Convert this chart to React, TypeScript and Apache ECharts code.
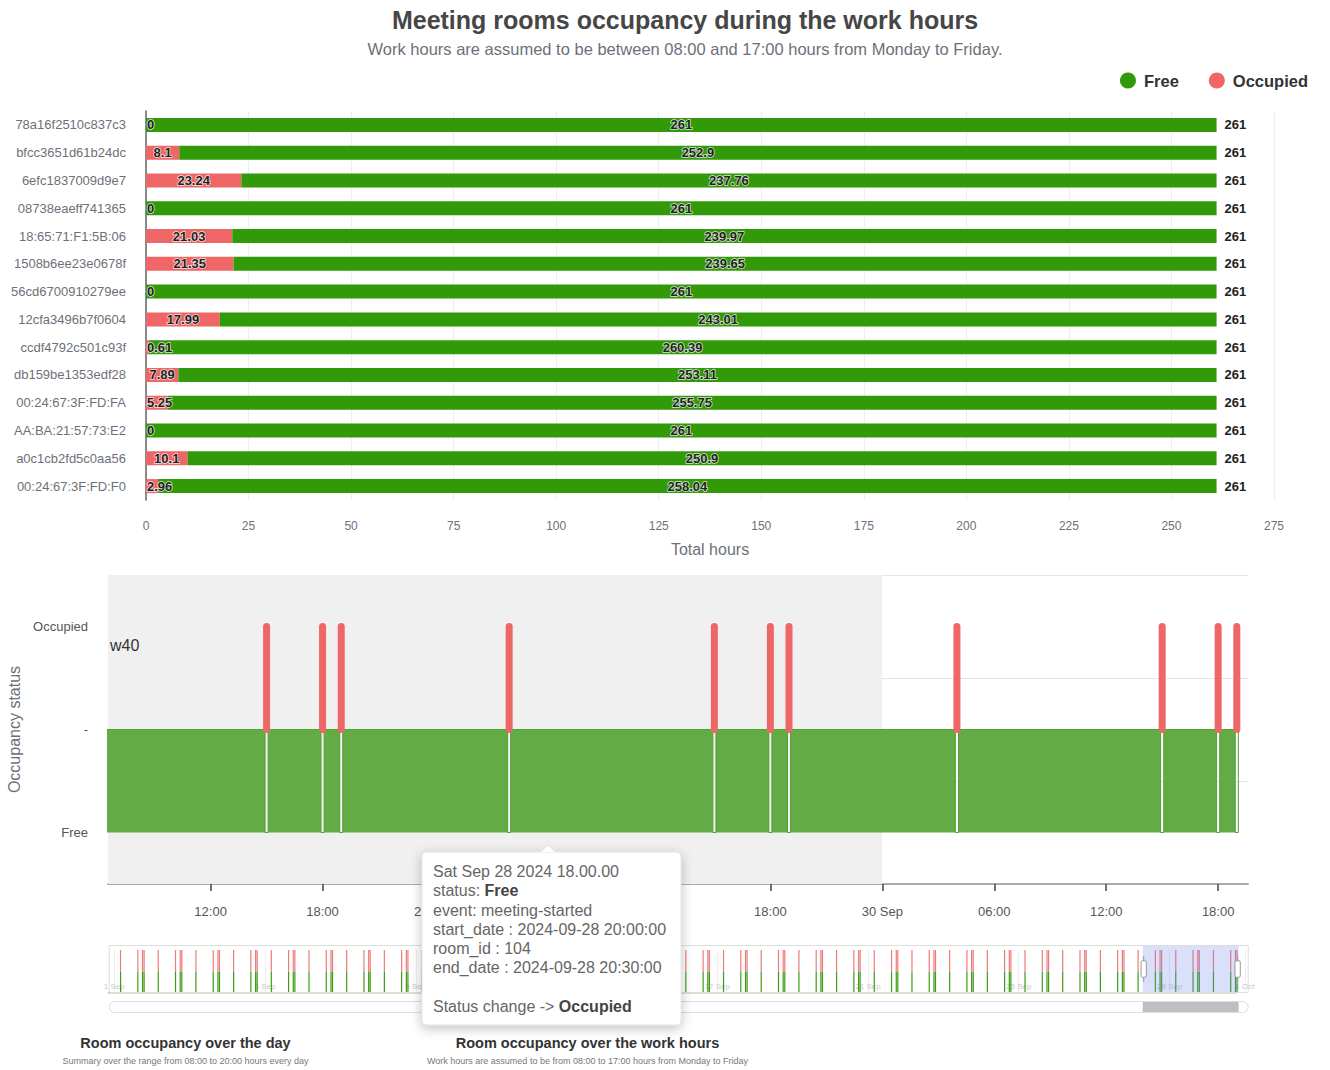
import React, { useEffect, useRef } from 'react';
import * as echarts from 'echarts';

// ---------- Top chart data ----------
const ROOMS = [
  '78a16f2510c837c3', 'bfcc3651d61b24dc', '6efc1837009d9e7', '08738eaeff741365',
  '18:65:71:F1:5B:06', '1508b6ee23e0678f', '56cd6700910279ee', '12cfa3496b7f0604',
  'ccdf4792c501c93f', 'db159be1353edf28', '00:24:67:3F:FD:FA', 'AA:BA:21:57:73:E2',
  'a0c1cb2fd5c0aa56', '00:24:67:3F:FD:F0',
];
const OCCUPIED = [0, 8.1, 23.24, 0, 21.03, 21.35, 0, 17.99, 0.61, 7.89, 5.25, 0, 10.1, 2.96];
const FREE = [261, 252.9, 237.76, 261, 239.97, 239.65, 261, 243.01, 260.39, 253.11, 255.75, 261, 250.9, 258.04];
const TOTALS = OCCUPIED.map((o, i) => Math.round((o + FREE[i]) * 100) / 100);
const X_TICKS = { min: 0, max: 275, interval: 25 };

// ---------- Bottom chart data ----------
const STATUS = ['Free', 'mid', 'Occupied'];
const FULL_RANGE = ['2024-08-31 20:00', '2024-10-01 02:00'];
const WINDOW = ['2024-09-28 06:30', '2024-09-30 19:36'];
const WEEKEND = ['2024-09-28 00:00', '2024-09-30 00:00'];
const EVENT_DAYS = [
  '2024-09-01', '2024-09-02', '2024-09-03', '2024-09-04', '2024-09-05', '2024-09-06',
  '2024-09-07', '2024-09-08', '2024-09-09', '2024-09-10', '2024-09-11', '2024-09-12',
  '2024-09-13', '2024-09-14', '2024-09-15', '2024-09-16', '2024-09-17', '2024-09-18',
  '2024-09-19', '2024-09-20', '2024-09-21', '2024-09-22', '2024-09-23', '2024-09-24',
  '2024-09-25', '2024-09-26', '2024-09-27', '2024-09-28', '2024-09-29', '2024-09-30',
];
const EVENT_TIMES = ['04:00', '15:00', '18:00', '19:00'];

const MONTHS = ['Jan', 'Feb', 'Mar', 'Apr', 'May', 'Jun', 'Jul', 'Aug', 'Sep', 'Oct', 'Nov', 'Dec'];

function ts(s: string): number {
  const [day, time = '00:00'] = s.split(' ');
  const [y, m, d] = day.split('-').map(Number);
  const [h, mi] = time.split(':').map(Number);
  return new Date(y, m - 1, d, h, mi).getTime();
}

const EVENTS: number[] = [];
EVENT_DAYS.forEach((d) => EVENT_TIMES.forEach((t) => EVENTS.push(ts(d + ' ' + t))));

const FONT = '"Liberation Sans", Arial, Helvetica, sans-serif';
const RED = '#ee6666';
const GREEN = '#329908';

function fmtTime(v: number): string {
  const d = new Date(v);
  const hh = String(d.getHours()).padStart(2, '0');
  const mm = String(d.getMinutes()).padStart(2, '0');
  if (hh === '00' && mm === '00') return `${d.getDate()} ${MONTHS[d.getMonth()]}`;
  return `${hh}:${mm}`;
}

function buildTopOption(): any {
  const barLabel = {
    show: true,
    position: 'inside',
    fontSize: 13,
    fontWeight: 'bold',
    color: '#222',
    textBorderColor: 'rgba(255,255,255,0.8)',
    textBorderWidth: 1.5,
  };
  const AXIS_X = 146;
  return {
    animation: false,
    textStyle: { fontFamily: FONT },
    graphic: [
      {
        type: 'text', x: 685, y: 20,
        style: { text: 'Meeting rooms occupancy during the work hours', font: `bold 25px ${FONT}`, fill: '#464646', textAlign: 'center', textVerticalAlign: 'middle' },
      },
      {
        type: 'text', x: 685, y: 49,
        style: { text: 'Work hours are assumed to be between 08:00 and 17:00 hours from Monday to Friday.', font: `16.5px ${FONT}`, fill: '#6E7079', textAlign: 'center', textVerticalAlign: 'middle' },
      },
    ],
    legend: {
      data: ['Free', 'Occupied'],
      right: 17, top: 67, itemWidth: 22, itemHeight: 16, itemGap: 30, icon: 'circle',
      textStyle: { fontSize: 16.5, fontWeight: 'bold', color: '#333', fontFamily: FONT },
    },
    grid: { left: 146, right: 56, top: 111, bottom: 55, outerBoundsMode: 'none', containLabel: false },
    xAxis: {
      type: 'value', min: X_TICKS.min, max: X_TICKS.max, interval: X_TICKS.interval,
      name: 'Total hours', nameLocation: 'middle', nameGap: 41,
      nameTextStyle: { fontSize: 16, color: '#6E7079' },
      axisLabel: { fontSize: 12, margin: 20, color: '#6E7079' },
      splitLine: { lineStyle: { color: '#eeeeee' } },
    },
    yAxis: {
      type: 'category', data: ROOMS, inverse: true,
      axisLine: { lineStyle: { color: '#666', width: 1.5 } },
      axisTick: { show: false },
      axisLabel: { fontSize: 13, margin: 20, color: '#6E7079' },
    },
    series: [
      {
        name: 'Occupied', type: 'bar', stack: 'total', data: OCCUPIED, barWidth: 14, itemStyle: { color: RED }, label: barLabel,
        labelLayout: (p: any) => {
          const r = p.labelRect;
          if (r && r.x < AXIS_X + 1) {
            return { x: AXIS_X + 1, y: r.y + r.height / 2, align: 'left', verticalAlign: 'middle' };
          }
          return {};
        },
      },
      { name: 'Free', type: 'bar', stack: 'total', data: FREE, barWidth: 14, itemStyle: { color: GREEN }, label: barLabel },
      {
        name: 'Total', type: 'bar', stack: 'total', data: TOTALS.map(() => 0), barWidth: 14,
        itemStyle: { color: 'rgba(0,0,0,0)' },
        label: { show: true, position: 'right', distance: 8, fontSize: 13, fontWeight: 'bold', color: '#222', formatter: (p: any) => String(TOTALS[p.dataIndex]) },
      },
    ],
  };
}

function buildBottomOption(): any {
  const DIP = 5 * 60 * 1000;
  const start = ts(FULL_RANGE[0]);
  const end = ts(FULL_RANGE[1]);
  const lastEvent = EVENTS[EVENTS.length - 1];

  const green: any[] = [[start, 1]];
  const red: any[] = [];
  const miniGreen: any[] = [[start, 0]];
  EVENTS.forEach((e) => {
    green.push([e - DIP, 1], [e - DIP, 0], [e + DIP, 0], [e + DIP, 1]);
    red.push([e, 1], [e, 2], [e, null]);
    miniGreen.push([e, 0], [e, 1], [e, 0]);
  });
  green.push([lastEvent + DIP, 1]);
  miniGreen.push([lastEvent + DIP, 0]);

  const Y0 = 555;
  const tipX = 422, tipY = 852 - Y0, tipW = 259, tipH = 173;
  const SIX_H = 7 * 3600 * 1000; // just above 6h so the time scale picks 6-hour steps

  return {
    animation: false,
    textStyle: { fontFamily: FONT },
    title: {
      text: 'w40', left: 110, top: 637 - Y0, padding: 0,
      textStyle: { fontSize: 16, fontWeight: 'normal', color: '#333', fontFamily: FONT },
    },
    grid: [
      { left: 108, right: 82, top: 20, height: 309, outerBoundsMode: 'none', containLabel: false },
      { left: 108, right: 82, top: 395, height: 43, outerBoundsMode: 'none', containLabel: false },
    ],
    xAxis: [
      {
        type: 'time', gridIndex: 0, min: start, max: end,
        minInterval: SIX_H, maxInterval: SIX_H,
        axisLine: { onZero: false, lineStyle: { color: '#aaa', width: 2 } },
        axisTick: { show: true, length: 7, lineStyle: { color: '#444', width: 1.5 } },
        axisLabel: { fontSize: 13, margin: 21, color: '#555', formatter: (v: number) => fmtTime(v) },
        splitLine: { show: false },
      },
      {
        type: 'time', gridIndex: 1, min: start, max: end,
        minInterval: 7 * 24 * 3600 * 1000,
        axisLine: { show: false, onZero: false },
        axisTick: { show: true, inside: true, length: 43, lineStyle: { color: '#eeeeee' } },
        axisLabel: { inside: true, fontSize: 8, color: '#c8c8c8', margin: 3, formatter: (v: number) => fmtTime(v) },
        splitLine: { show: false },
      },
    ],
    yAxis: [
      {
        type: 'category', gridIndex: 0, data: STATUS,
        name: 'Occupancy status', nameLocation: 'middle', nameGap: 84,
        nameTextStyle: { fontSize: 16, color: '#6E7079' },
        axisLine: { show: false }, axisTick: { show: false },
        axisLabel: { fontSize: 13, margin: 20, color: '#555', formatter: (v: string) => (v === 'mid' ? '-' : v) },
        splitLine: { show: true, lineStyle: { color: '#e4e4e4' } },
      },
      // hidden numeric axis aligned with the category bands (index 0..2) so the area fills vertically
      { type: 'value', gridIndex: 0, min: -0.5, max: 2.5, show: false },
      { type: 'value', gridIndex: 1, min: 0, max: 2, show: false },
    ],
    dataZoom: [
      {
        type: 'slider', xAxisIndex: 0, filterMode: 'none',
        startValue: ts(WINDOW[0]), endValue: ts(WINDOW[1]),
        left: 108, right: 82, top: 390, height: 48,
        showDataShadow: false, showDetail: false, brushSelect: false,
        backgroundColor: 'rgba(0,0,0,0)', borderColor: '#ddd',
        fillerColor: 'rgba(110,130,235,0.25)',
        handleSize: '55%', handleStyle: { color: '#fff', borderColor: '#999' },
        moveHandleSize: 0,
      },
      {
        type: 'slider', xAxisIndex: 0, filterMode: 'none',
        startValue: ts(WINDOW[0]), endValue: ts(WINDOW[1]),
        left: 108, right: 82, top: 446, height: 12,
        showDataShadow: false, showDetail: false, brushSelect: false,
        backgroundColor: 'rgba(0,0,0,0)', borderColor: '#ddd', borderRadius: 6,
        fillerColor: 'rgba(170,170,170,0.75)',
        handleSize: 0, moveHandleSize: 0,
      },
    ],
    series: [
      {
        name: 'Free', type: 'line', xAxisIndex: 0, yAxisIndex: 1, data: green,
        showSymbol: false, symbol: 'none', z: 3,
        lineStyle: { color: '#52a234', width: 1 },
        areaStyle: { color: '#63ab45', opacity: 1, origin: 0 },
        markArea: {
          silent: true,
          itemStyle: { color: '#f0f0f0' },
          data: [[{ xAxis: ts(WEEKEND[0]) }, { xAxis: ts(WEEKEND[1]) }]],
        },
      },
      {
        name: 'Occupied', type: 'line', xAxisIndex: 0, yAxisIndex: 1, data: red,
        showSymbol: false, symbol: 'none', connectNulls: false, z: 4,
        lineStyle: { color: RED, width: 7, cap: 'round' },
      },
      {
        name: 'FreeMini', type: 'line', xAxisIndex: 1, yAxisIndex: 2, data: miniGreen,
        showSymbol: false, symbol: 'none', lineStyle: { color: '#3c9d14', width: 1.2 },
      },
      {
        name: 'OccupiedMini', type: 'line', xAxisIndex: 1, yAxisIndex: 2, data: red,
        showSymbol: false, symbol: 'none', connectNulls: false, lineStyle: { color: '#f07a7a', width: 1.2 },
      },
    ],
    graphic: [
      {
        type: 'text', x: 185.5, y: 1043 - Y0,
        style: { text: 'Room occupancy over the day', font: `bold 14.5px ${FONT}`, fill: '#333', textAlign: 'center', textVerticalAlign: 'middle' },
      },
      {
        type: 'text', x: 185.5, y: 1061 - Y0,
        style: { text: 'Summary over the range from 08:00 to 20:00 hours every day', font: `9px ${FONT}`, fill: '#777', textAlign: 'center', textVerticalAlign: 'middle' },
      },
      {
        type: 'text', x: 587.5, y: 1043 - Y0,
        style: { text: 'Room occupancy over the work hours', font: `bold 14.5px ${FONT}`, fill: '#333', textAlign: 'center', textVerticalAlign: 'middle' },
      },
      {
        type: 'text', x: 587.5, y: 1061 - Y0,
        style: { text: 'Work hours are assumed to be from 08:00 to 17:00 hours from Monday to Friday', font: `9px ${FONT}`, fill: '#777', textAlign: 'center', textVerticalAlign: 'middle' },
      },
      {
        type: 'group', z: 100,
        children: [
          {
            type: 'rect', z: 100,
            shape: { x: tipX, y: tipY, width: tipW, height: tipH, r: 4 },
            style: { fill: '#fff', stroke: '#e2e2e2', lineWidth: 1, shadowBlur: 12, shadowColor: 'rgba(0,0,0,0.25)', shadowOffsetY: 3 },
          },
          {
            type: 'polygon', z: 101,
            shape: { points: [[540, tipY + 0.5], [548, tipY - 7], [556, tipY + 0.5]] },
            style: { fill: '#fff', stroke: '#e2e2e2', lineWidth: 1 },
          },
          {
            type: 'rect', z: 102,
            shape: { x: 539, y: tipY + 0.5, width: 18, height: 3 },
            style: { fill: '#fff' },
          },
          {
            type: 'text', z: 103, x: 433, y: tipY + 10,
            style: {
              text: [
                '{n|Sat Sep 28 2024 18.00.00}',
                '{n|status: }{b|Free}',
                '{n|event: meeting-started}',
                '{n|start_date : 2024-09-28 20:00:00}',
                '{n|room_id : 104}',
                '{n|end_date : 2024-09-28 20:30:00}',
                '{n| }',
                '{n|Status change -> }{b|Occupied}',
              ].join('\n'),
              textVerticalAlign: 'top',
              rich: {
                n: { fontSize: 16, fontFamily: FONT, fill: '#666', lineHeight: 19.2 },
                b: { fontSize: 16, fontFamily: FONT, fontWeight: 'bold', fill: '#444', lineHeight: 19.2 },
              },
            },
          },
        ],
      },
    ],
  };
}

function Chart({ top, height, build }: { top: number; height: number; build: () => any }) {
  const ref = useRef<HTMLDivElement>(null);
  useEffect(() => {
    if (!ref.current) return;
    const chart = echarts.init(ref.current, undefined, { renderer: 'svg' });
    try {
      chart.setOption(build());
    } catch (e) {
      console.error(e);
    }
    return () => chart.dispose();
  }, [build]);
  return <div ref={ref} style={{ position: 'absolute', left: 0, top, width: 1330, height }} />;
}

export default function App() {
  return (
    <div style={{ position: 'fixed', left: 0, top: 0, width: 1330, height: 1070, overflow: 'hidden', background: '#fff' }}>
      <Chart top={0} height={555} build={buildTopOption} />
      <Chart top={555} height={515} build={buildBottomOption} />
    </div>
  );
}
